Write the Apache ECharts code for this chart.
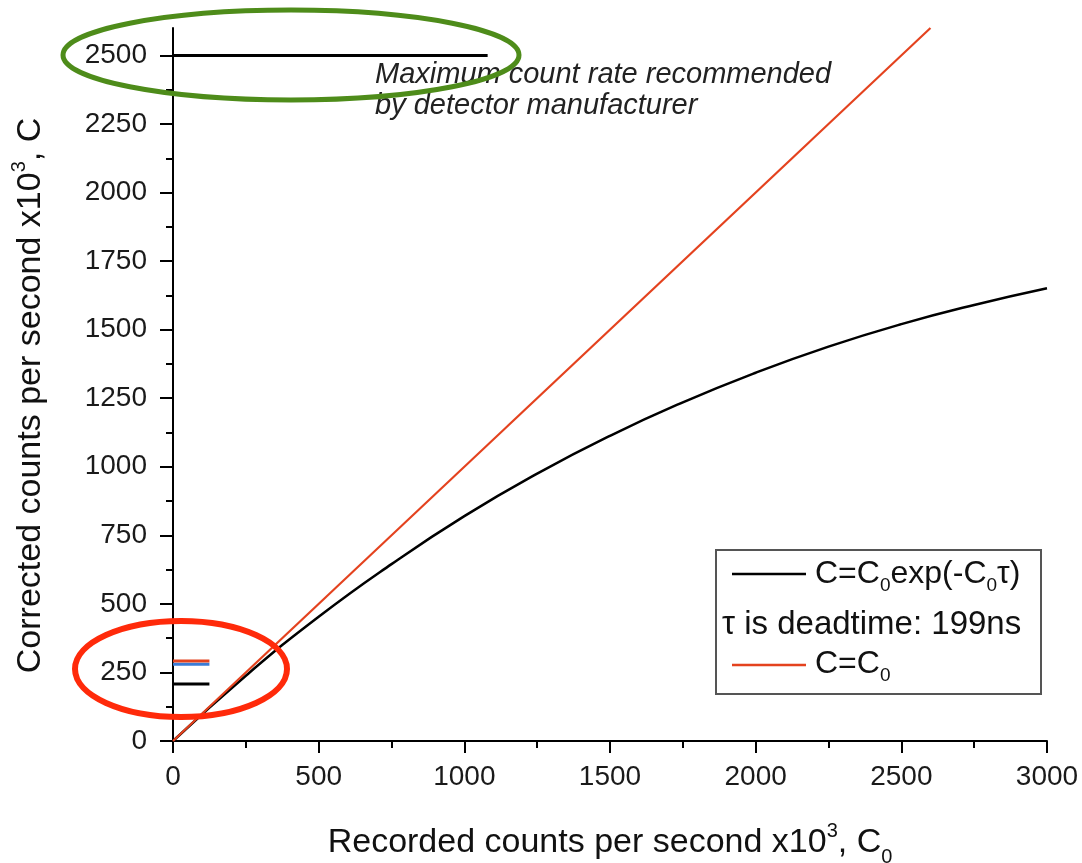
<!DOCTYPE html>
<html><head><meta charset="utf-8">
<script src="https://cdn.jsdelivr.net/npm/echarts@6/dist/echarts.min.js"></script>
<style>html,body{margin:0;padding:0;background:#fff}#c{width:1082px;height:863px}</style>
</head><body><div id="c"></div>
<script>
// Data
const recordedX      = [0, 250, 500, 750, 1000, 1250, 1500, 1750, 2000, 2250, 2500, 2750, 3000];
const correctedExp   = [0, 238, 453, 645, 820, 975, 1113, 1235, 1343, 1438, 1520, 1590, 1651];
const identityX      = [0, 2600];
const identityY      = [0, 2600];
const maxRateX       = [0, 1080];
const maxRateY       = [2500, 2500];
const markerX        = [0, 125];
const markerBlackY   = [208, 208];
const markerBlueY    = [280, 280];
const markerRedY     = [292, 292];
const xTicks         = [0, 500, 1000, 1500, 2000, 2500, 3000];
const yTicks         = [0, 250, 500, 750, 1000, 1250, 1500, 1750, 2000, 2250, 2500];
const yMinorTicks    = [125, 375, 625, 875, 1125, 1375, 1625, 1875, 2125, 2375];
const annotationText = ['Maximum count rate recommended', 'by detector manufacturer'];
const legendLabels   = ['C=C{sub|0}exp(-C{sub|0}τ)', 'τ is deadtime: 199ns', 'C=C{sub|0}'];

const FONT = '"Liberation Sans", Arial, Helvetica, sans-serif';
const pairs = (xs, ys) => xs.map((x, i) => [x, ys[i]]);
const richSS = (fs) => ({
  sup: {fontSize: Math.round(fs*0.58), fontFamily: FONT, color: '#111', padding: [0,0,24,0]},
  sub: {fontSize: Math.round(fs*0.58), fontFamily: FONT, color: '#111', padding: [28,0,0,0]}
});
const plain = (v) => String(v);

const chart = echarts.init(document.getElementById('c'));
const lineSeries = (data, color, width, smooth) => ({
  type: 'line', data, showSymbol: false, smooth: !!smooth, silent: true,
  lineStyle: {color, width}, itemStyle: {color}, z: 3
});

const option = {
  backgroundColor: '#fff',
  animation: false,
  grid: {left: 173, right: 35, top: 28, bottom: 122, containLabel: false, outerBoundsMode: 'none'},
  xAxis: {
    type: 'value', min: 0, max: 3000, interval: 500,
    axisLine: {show: true, onZero: false, lineStyle: {color: '#000', width: 2}},
    axisTick: {show: true, length: 12, lineStyle: {color: '#000', width: 2}},
    minorTick: {show: true, splitNumber: 2, length: 7, lineStyle: {color: '#000', width: 2}},
    splitLine: {show: false}, minorSplitLine: {show: false},
    axisLabel: {fontSize: 28, fontFamily: FONT, color: '#1a1a1a', margin: 22, formatter: plain},
    name: 'Recorded counts per second x10{sup|3}, C{sub|0}',
    nameLocation: 'middle', nameGap: 78,
    nameTextStyle: {fontSize: 34, fontFamily: FONT, color: '#111', rich: richSS(34)}
  },
  yAxis: [{
    type: 'value', position: 'left', min: 0, max: 2600,
    axisLine: {show: true, lineStyle: {color: '#000', width: 2}},
    axisTick: {show: true, customValues: yTicks, length: 13, lineStyle: {color: '#000', width: 2}},
    axisLabel: {customValues: yTicks, fontSize: 28, fontFamily: FONT, color: '#1a1a1a', margin: 26, formatter: plain},
    splitLine: {show: false},
    name: 'Corrected counts per second x10{sup|3}, C',
    nameLocation: 'middle', nameGap: 120, nameRotate: 90,
    nameTextStyle: {fontSize: 34, fontFamily: FONT, color: '#111', rich: richSS(34), padding: [0, 22, 0, 0]}
  }, {
    type: 'value', position: 'left', min: 0, max: 2600,
    axisLine: {show: false},
    axisTick: {show: true, customValues: yMinorTicks, length: 7, lineStyle: {color: '#000', width: 2}},
    axisLabel: {show: false},
    splitLine: {show: false}
  }],
  series: [
    lineSeries(pairs(recordedX, correctedExp), '#000', 2.5, true),
    lineSeries(pairs(identityX, identityY), '#e4421e', 2.2),
    lineSeries(pairs(maxRateX, maxRateY), '#000', 3),
    lineSeries(pairs(markerX, markerBlackY), '#000', 3),
    lineSeries(pairs(markerX, markerBlueY), '#3a7bd5', 3),
    lineSeries(pairs(markerX, markerRedY), '#e4421e', 3)
  ],
  graphic: [
    {type: 'text', left: 375, top: 59, z: 10, silent: true,
     style: {text: annotationText.join('\n'), fontSize: 29, lineHeight: 31, fontStyle: 'italic',
             fontFamily: FONT, fill: '#222'}},
    // legend box
    {type: 'rect', shape: {x: 716, y: 550, width: 325, height: 144}, z: 10, silent: true,
     style: {fill: '#fff', stroke: '#555', lineWidth: 2}},
    {type: 'line', shape: {x1: 732, y1: 574, x2: 806, y2: 574}, z: 11, silent: true,
     style: {stroke: '#000', lineWidth: 2.5}},
    {type: 'line', shape: {x1: 732, y1: 665, x2: 806, y2: 665}, z: 11, silent: true,
     style: {stroke: '#e4421e', lineWidth: 2.5}},
    {type: 'text', x: 815, y: 574, z: 11, silent: true,
     style: {text: legendLabels[0], fontSize: 32, fontFamily: FONT, fill: '#111', verticalAlign: 'middle',
             rich: {sub: {fontSize: 19, fontFamily: FONT, fill: '#111', padding: [24,0,0,0]}}}},
    {type: 'text', x: 722, y: 625, z: 11, silent: true,
     style: {text: legendLabels[1], fontSize: 33, fontFamily: FONT, fill: '#111', verticalAlign: 'middle'}},
    {type: 'text', x: 815, y: 664, z: 11, silent: true,
     style: {text: legendLabels[2], fontSize: 32, fontFamily: FONT, fill: '#111', verticalAlign: 'middle',
             rich: {sub: {fontSize: 19, fontFamily: FONT, fill: '#111', padding: [24,0,0,0]}}}},
    // highlight ellipses
    {type: 'ellipse', shape: {cx: 291, cy: 55, rx: 228, ry: 45}, z: 20, silent: true,
     style: {fill: 'none', stroke: '#4e8c1a', lineWidth: 5}},
    {type: 'ellipse', shape: {cx: 181, cy: 669, rx: 106, ry: 48}, z: 20, silent: true,
     style: {fill: 'none', stroke: '#ff2a0a', lineWidth: 6}}
  ]
};
chart.setOption(option);
</script>
</body></html>
